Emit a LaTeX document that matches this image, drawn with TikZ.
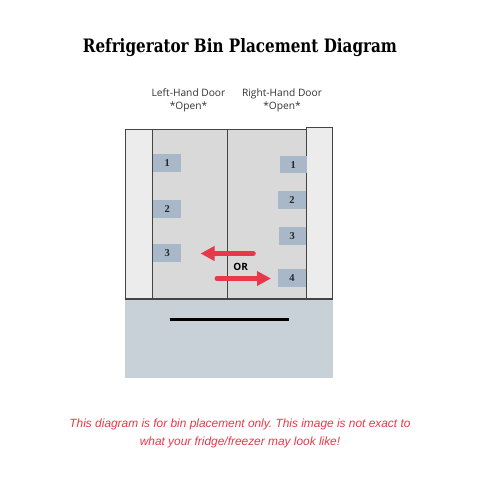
\documentclass[tikz,border=0pt]{standalone}
\usepackage{fontspec}
\setmainfont{DejaVu Serif}
\newfontfamily\titlefont[FakeStretch=0.82]{DejaVu Serif}
\newfontfamily\labelfont{Open Sans}
\newfontfamily\notefont{Liberation Sans}
\newfontfamily\binfont{Liberation Serif}
\usetikzlibrary{arrows.meta}
\definecolor{edge}{HTML}{444444}
\definecolor{panelfill}{HTML}{ECECEC}
\definecolor{doorfill}{HTML}{D9D9D9}
\definecolor{drawerfill}{HTML}{C8D0D8}
\definecolor{binfill}{HTML}{A9B8C8}
\definecolor{redarrow}{HTML}{E8394A}
\definecolor{labelgray}{HTML}{333333}
\tikzset{
  panel/.style={draw=edge, line width=1pt, fill=panelfill},
  door/.style={draw=edge, line width=1pt, fill=doorfill},
  bin/.style={fill=binfill, inner sep=0pt, font=\binfont\bfseries\fontsize{10.5}{12}\selectfont, text=black!85},
  doorlabel/.style={font=\labelfont\fontsize{10.2}{13}\selectfont, text=labelgray, align=center},
  movearrow/.style={redarrow, line width=5pt, line cap=round, -{Triangle[length=14pt,width=14pt]}},
}
\begin{document}
\frenchspacing
\begin{tikzpicture}[x=1pt,y=-1pt]
\useasboundingbox (0,0) rectangle (480,480);
\fill[white] (0,0) rectangle (480,480);
% title
\node[font=\titlefont\bfseries\fontsize{18.5}{22}\selectfont] (title) at (240,48) {Refrigerator Bin Placement Diagram};
% door labels
\node[doorlabel] (leftlabel) at (188.5,100) {Left-Hand Door\\*Open*};
\node[doorlabel] (rightlabel) at (282,100) {Right-Hand Door\\*Open*};
% drawer
\fill[drawerfill] (125,300) rectangle (333,378);
\draw[black, line width=3pt] (169.5,319.5) -- (289,319.5);
% doors
\draw[door] (152,129) rectangle (227.3,299);
\draw[door] (227.3,129) rectangle (306.7,299);
% side panels
\draw[panel] (125.5,129) rectangle (152,299);
\draw[panel] (306.7,127.5) rectangle (332.3,299);
\draw[edge, line width=1.8pt] (125,299.3) -- (333,299.3);
% left bins
\node[bin, minimum width=28.5pt, minimum height=18.5pt, anchor=north west] (L1) at (152.7,153.3) {1};
\node[bin, minimum width=28.5pt, minimum height=18pt, anchor=north west] (L2) at (152.7,200) {2};
\node[bin, minimum width=28.5pt, minimum height=17.5pt, anchor=north west] (L3) at (152.7,244) {3};
% right bins
\node[bin, minimum width=27pt, minimum height=17.5pt, anchor=north east] (R1) at (307,155.7) {1};
\node[bin, minimum width=27.7pt, minimum height=18pt, anchor=north east] (R2) at (306,191) {2};
\node[bin, minimum width=27pt, minimum height=18.3pt, anchor=north east] (R3) at (306,226.7) {3};
\node[bin, minimum width=27.7pt, minimum height=17.7pt, anchor=north east] (R4) at (306,269) {4};
% arrows
\coordinate (a1s) at (253.3,253.5);
\coordinate (a1e) at (200.5,253.5);
\coordinate (a2s) at (217,278.5);
\coordinate (a2e) at (271,278.5);
\draw[movearrow] (a1s) -- (a1e);
\draw[movearrow] (a2s) -- (a2e);
\node[font=\labelfont\bfseries\fontsize{10}{12}\selectfont, text=black] (or) at (240.7,266.5) {OR};
% note
\node[font=\notefont\itshape\fontsize{11.9}{18}\selectfont, text=redarrow, align=center] (note) at (240,433.5) {This diagram is for bin placement only. This image is not exact to\\what your fridge/freezer may look like!};
\end{tikzpicture}
\end{document}
